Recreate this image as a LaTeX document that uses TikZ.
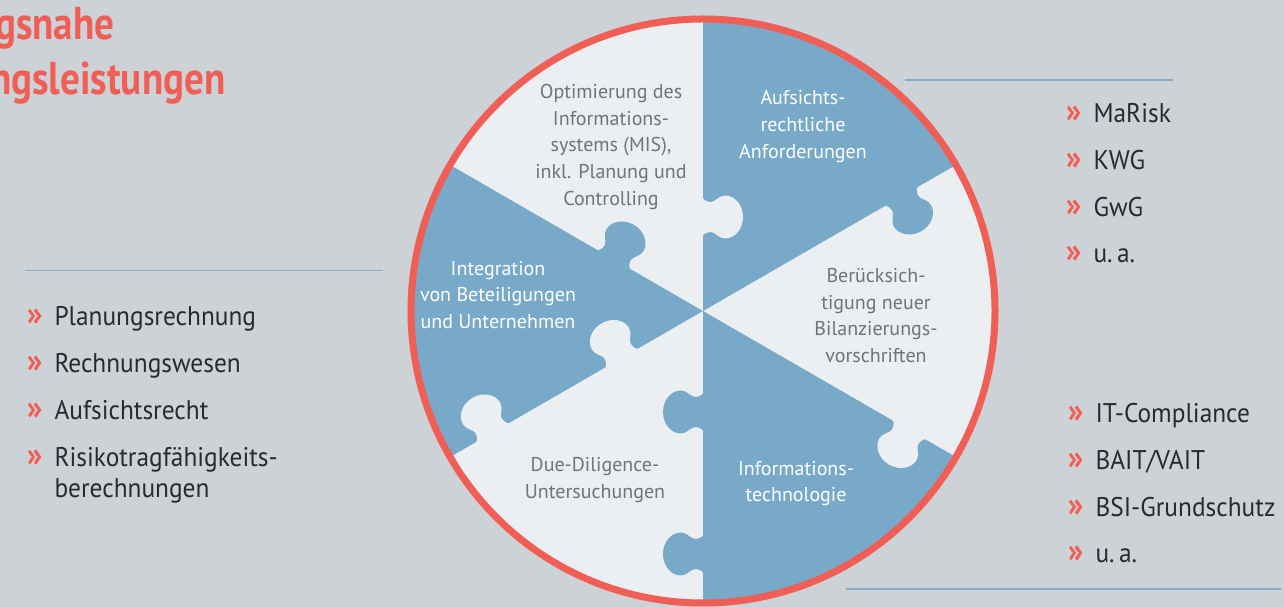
\documentclass[tikz,border=0pt]{standalone}
\usepackage{fontspec}
\setmainfont{PT Sans}
\newfontfamily\titlefont{PT Sans}[FakeStretch=0.85]
\newfontfamily\listfont{PT Sans}[FakeStretch=0.94]
\definecolor{bgc}{HTML}{CDD2D7}
\definecolor{bluec}{HTML}{78A9C9}
\definecolor{lightc}{HTML}{ECEFF2}
\definecolor{redc}{HTML}{F05E56}
\definecolor{graytext}{HTML}{6E747A}
\definecolor{rulec}{HTML}{84AECE}
\definecolor{listtext}{HTML}{2A2A2A}
\newcommand\knob[3]{%
  \fill[#3, shift={(#1:#2pt)}, rotate={#1-90}]
   (-3,19) -- (0,19) .. controls (0,16.5) and (5.5,15) .. (8,15)
   .. controls (12,15) and (16,21.5) .. (22,21.5)
   .. controls (32,21.5) and (40,11.9) .. (40,0)
   .. controls (40,-11.9) and (32,-21.5) .. (22,-21.5)
   .. controls (16,-21.5) and (12,-15) .. (8,-15)
   .. controls (5.5,-15) and (0,-16.5) .. (0,-19)
   -- (-3,-19) -- cycle;}
\newcommand\bul{\makebox[27.6pt][l]{\textcolor{redc}{\fontsize{34}{34}\selectfont\bfseries »}}}
\begin{document}
\begin{tikzpicture}[x=1pt,y=1pt,
  sectortext/.style={align=center, inner sep=0pt, font=\fontsize{20}{26.7}\selectfont},
  listitem/.style={anchor=base west, inner sep=0pt, text=listtext, font=\listfont\fontsize{27}{32}\selectfont},
  rule/.style={draw=rulec, line width=1.6pt},
  titletext/.style={anchor=base west, inner sep=0pt, text=redc, font=\titlefont\bfseries\fontsize{46}{55}\selectfont}]
\fill[bgc] (0,0) rectangle (1284,607);
\useasboundingbox (0,0) rectangle (1284,607);
% title
\node[titletext] (t1) at (-5,567) {gsnahe};
\node[titletext] (t2) at (-10,512) {ngsleistungen};
% puzzle disc
\begin{scope}[shift={(703,296)}]
  \fill[lightc] (0,0) circle (291pt);
  \fill[bluec] (0,0) -- (30:291pt) arc (30:90:291pt) -- cycle;
  \fill[bluec] (0,0) -- (150:291pt) arc (150:210:291pt) -- cycle;
  \fill[bluec] (0,0) -- (270:291pt) arc (270:330:291pt) -- cycle;
  \knob{90}{94}{lightc}
  \knob{30}{229}{bluec}
  \knob{150}{103}{bluec}
  \knob{210}{94}{lightc}
  \knob{210}{243}{lightc}
  \knob{270}{101}{bluec}
  \knob{270}{243}{bluec}
  \knob{330}{238}{lightc}
  \draw[redc, line width=7pt] (0,0) circle (292pt);
\end{scope}
% sector texts
\node[sectortext, text=graytext] (s1) at (611,460) {Optimierung des\\Informations-\\systems (MIS),\\inkl. Planung und\\Controlling};
\node[sectortext, text=white] (s2) at (803,480.5) {Aufsichts-\\rechtliche\\Anforderungen};
\node[sectortext, text=white] (s3) at (498,312) {Integration\\von Beteiligungen\\und Unternehmen};
\node[sectortext, text=graytext] (s4) at (876,291.5) {Berücksich-\\tigung neuer\\Bilanzierungs-\\vorschriften};
\node[sectortext, text=graytext] (s5) at (595,127) {Due-Diligence-\\Untersuchungen};
\node[sectortext, text=white] (s6) at (796,123.5) {Informations-\\technologie};
% rules
\coordinate (r1a) at (25,336.3);   \coordinate (r1b) at (383,336.3);
\coordinate (r2a) at (905,527);    \coordinate (r2b) at (1172.7,527);
\coordinate (r3a) at (846,18);     \coordinate (r3b) at (1281,18);
\draw[rule] (r1a) -- (r1b);
\draw[rule] (r2a) -- (r2b);
\draw[rule] (r3a) -- (r3b);
% left list
\node[listitem] (a1) at (26.7,281) {\bul Planungsrechnung};
\node[listitem] (a2) at (26.7,234) {\bul Rechnungswesen};
\node[listitem] (a3) at (26.7,187) {\bul Aufsichtsrecht};
\node[listitem] (a4) at (26.7,140) {\bul Risikotragfähigkeits-};
\node[listitem] (a5) at (54.3,109) {berechnungen};
% top right list
\node[listitem] (b1) at (1065.7,484.3) {\bul MaRisk};
\node[listitem] (b2) at (1065.7,437) {\bul KWG};
\node[listitem] (b3) at (1065.7,390) {\bul GwG};
\node[listitem] (b4) at (1065.7,344) {\bul u.\,a.};
% bottom right list
\node[listitem] (c1) at (1067.7,184.3) {\bul IT-Compliance};
\node[listitem] (c2) at (1067.7,137) {\bul BAIT/VAIT};
\node[listitem] (c3) at (1067.7,90.3) {\bul BSI-Grundschutz};
\node[listitem] (c4) at (1067.7,44) {\bul u.\,a.};
\end{tikzpicture}
\end{document}
